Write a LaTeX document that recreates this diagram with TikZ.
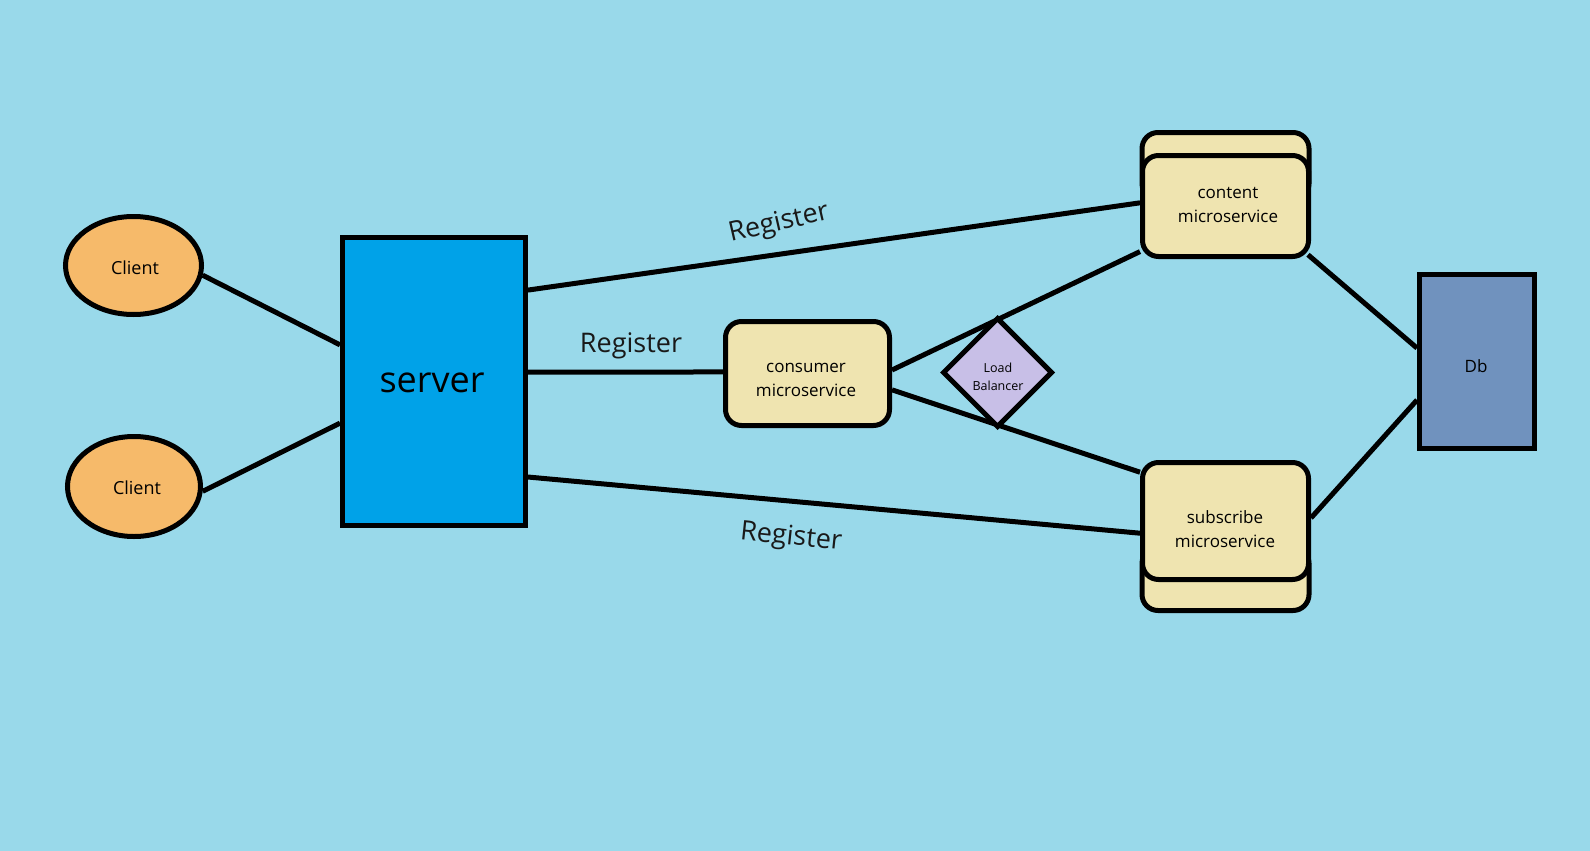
\documentclass[tikz,border=0pt]{standalone}
\usepackage{fontspec}
\setmainfont{Open Sans}
\usetikzlibrary{shapes.geometric,calc}
\definecolor{bg}{HTML}{99D9EA}
\definecolor{clientc}{HTML}{F6BA6A}
\definecolor{serverc}{HTML}{00A2E8}
\definecolor{msc}{HTML}{EFE4B0}
\definecolor{lbc}{HTML}{C8BFE7}
\definecolor{dbc}{HTML}{7092BE}
\tikzset{
  conn/.style={line width=5pt, draw=black},
  msbox/.style={draw=black, line width=5pt, fill=msc, rounded corners=16pt, inner sep=0pt},
  clientnode/.style={ellipse, draw=black, line width=5pt, fill=clientc, inner sep=0pt},
  txt/.style={font=\fontsize{17}{24}\selectfont, align=center, text=black, inner sep=0pt},
  regtxt/.style={font=\fontsize{27}{32}\selectfont, text=black!90, inner sep=0pt},
}
\begin{document}
\begin{tikzpicture}[x=1pt,y=-1pt]
\fill[bg] (0,0) rectangle (1590,851);
\useasboundingbox (0,0) rectangle (1590,851);

% clients and server
\node[clientnode, minimum width=136, minimum height=98] (c1) at (133.5,265.5) {};
\node[txt, font=\fontsize{18}{22}\selectfont] (c1t) at (135,268) {Client};
\node[clientnode, minimum width=133, minimum height=100] (c2) at (134,486.5) {};
\node[txt, font=\fontsize{18}{22}\selectfont] (c2t) at (137,488) {Client};
\node[draw=black, line width=5pt, fill=serverc, minimum width=183, minimum height=288, inner sep=0pt] (srv) at (434,381.5) {};
\node[txt, font=\fontsize{36}{40}\selectfont] (srvt) at (432,383) {server};

% microservices
\node[msbox, minimum width=164, minimum height=104] (cons) at (807.5,373.5) {};
\node[txt] (const) at (806,380) {consumer\\microservice};

\node[msbox, minimum width=167, minimum height=67] (cb) at (1225.5,166) {};
\node[msbox, minimum width=166, minimum height=101] (cf) at (1225.5,206) {};
\node[txt] (cft) at (1228,205) {content\\ microservice};

\node[msbox, minimum width=167, minimum height=63] (sb) at (1225.5,579) {};
\node[msbox, minimum width=166, minimum height=117] (sf) at (1225.5,521) {};
\node[txt] (sft) at (1225,529) {subscribe\\microservice};

\node[draw=black, line width=5pt, fill=dbc, minimum width=115, minimum height=174, inner sep=0pt] (db) at (1477,361.5) {};
\node[txt] (dbt) at (1476,366) {Db};

% connection points
\coordinate (sl1) at ($(srv.north west)!0.375!(srv.south west)$);
\coordinate (sl2) at ($(srv.north west)!0.642!(srv.south west)$);
\coordinate (sr1) at ($(srv.north east)!0.188!(srv.south east)$);
\coordinate (sr2) at ($(srv.north east)!0.468!(srv.south east)$);
\coordinate (sr3) at ($(srv.north east)!0.826!(srv.south east)$);
\coordinate (cl) at ($(cons.north west)!0.486!(cons.south west)$);
\coordinate (cr1) at ($(cons.north east)!0.468!(cons.south east)$);
\coordinate (cr2) at ($(cons.north east)!0.65!(cons.south east)$);
\coordinate (cfl1) at ($(cf.north west)!0.47!(cf.south west)$);
\coordinate (cfl2) at ($(cf.north west)!0.93!(cf.south west)$);
\coordinate (cfr) at ($(cf.north east)!0.96!(cf.south east)+(-3,0)$);
\coordinate (sfl1) at ($(sf.north west)!0.1!(sf.south west)$);
\coordinate (sfl2) at ($(sf.north west)!0.6!(sf.south west)$);
\coordinate (sfr) at ($(sf.north east)!0.475!(sf.south east)$);
\coordinate (dbl1) at ($(db.north west)!0.425!(db.south west)$);
\coordinate (dbl2) at ($(db.north west)!0.715!(db.south west)$);

% connectors
\draw[conn] (c1.-8) -- (sl1);
\draw[conn] (c2.-4) -- (sl2);
\draw[conn] (sr1) -- (cfl1);
\draw[conn] (sr2) -- (cl);
\draw[conn] (sr3) -- (sfl2);
\draw[conn] (cr1) -- (cfl2);
\draw[conn] (cr2) -- (sfl1);
\draw[conn] (cfr) -- (dbl1);
\draw[conn] (sfr) -- (dbl2);

% load balancer
\node[diamond, draw=black, line width=5pt, fill=lbc, minimum width=110, minimum height=110, inner sep=0pt] (lb) at (997.5,372.5) {};
\node[txt, font=\fontsize{12.5}{18}\selectfont] (lbt) at (998,377) {Load\\Balancer};

% labels
\node[regtxt, rotate=13] (reg1) at (779,224) {Register};
\node[regtxt] (reg2) at (631,346) {Register};
\node[regtxt, rotate=-6] (reg3) at (791,538) {Register};
\end{tikzpicture}
\end{document}
